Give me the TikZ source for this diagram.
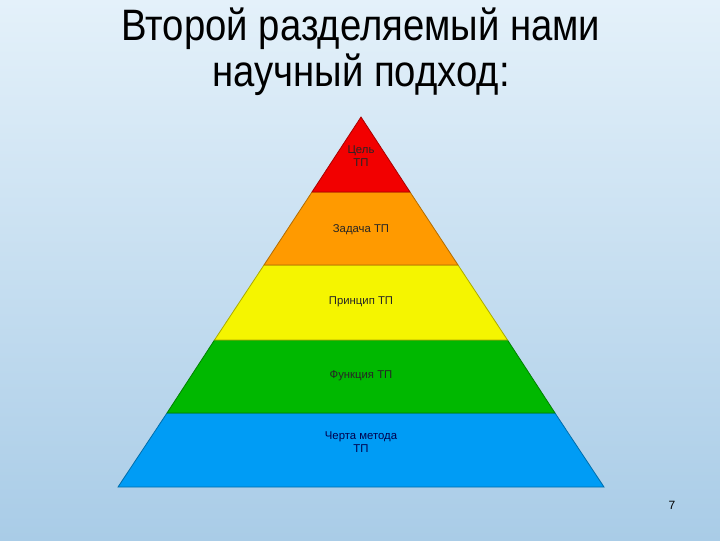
\documentclass[tikz,border=0pt]{standalone}
\usepackage{fontspec}
\setmainfont{Liberation Sans}
\usepackage{tikz}
\usetikzlibrary{positioning, calc}

\definecolor{bgtop}{HTML}{E4F1FA}
\definecolor{bgbot}{HTML}{A9CCE7}
\definecolor{lvlred}{HTML}{F20000}
\definecolor{lvlorange}{HTML}{FF9A00}
\definecolor{lvlyellow}{HTML}{F5F500}
\definecolor{lvlgreen}{HTML}{00B800}
\definecolor{lvlblue}{HTML}{009CF5}

\begin{document}
\begin{tikzpicture}[
  x=0.75pt, y=0.75pt,
  layer/.style={draw=#1!70!black, line width=0.6pt, fill=#1},
  lvltext/.style={font=\fontsize{8.5}{9.5}\selectfont, align=center, text=black!85},
  titletext/.style={font=\fontsize{33}{34.5}\selectfont, align=center, xscale=0.87, transform shape}
]
% Background
\shade[top color=bgtop, bottom color=bgbot] (0,0) rectangle (720,540);
\useasboundingbox (0,0) rectangle (720,540);

% Title
\node[titletext] (title) at (361,488) {Второй разделяемый нами\\научный подход:};

% Pyramid layers (bottom to top)
\draw[layer=lvlblue]   (118,53)  -- (604,53)  -- (555,127) -- (167,127) -- cycle;
\draw[layer=lvlgreen]  (167,127) -- (555,127) -- (507.5,200) -- (214.5,200) -- cycle;
\draw[layer=lvlyellow] (214.5,200) -- (507.5,200) -- (458,275) -- (264,275) -- cycle;
\draw[layer=lvlorange] (264,275) -- (458,275) -- (410,348) -- (312,348) -- cycle;
\draw[layer=lvlred]    (312,348) -- (410,348) -- (361,423) -- cycle;

% Layer labels
\node[lvltext] (goal) at (361,384) {Цель\\ТП};
\node[lvltext] (task) at (361,310) {Задача ТП};
\node[lvltext] (principle) at (361,238) {Принцип ТП};
\node[lvltext] (function) at (361,164) {Функция ТП};
\node[lvltext, text=blue!30!black] (feature) at (361,98) {Черта метода\\ТП};

% Slide number
\node[font=\fontsize{9}{10}\selectfont] (pagenum) at (672,35) {7};
\end{tikzpicture}
\end{document}
